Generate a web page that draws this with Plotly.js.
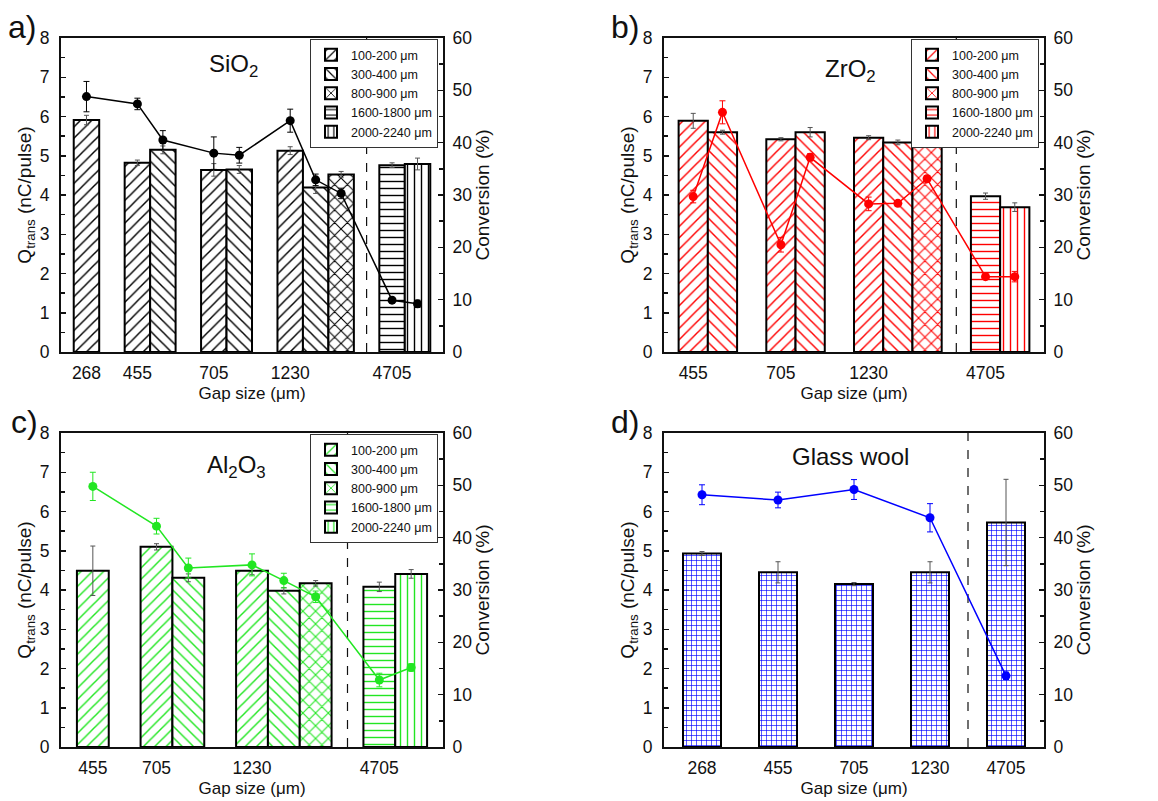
<!DOCTYPE html>
<html><head><meta charset="utf-8">
<script src="https://cdn.plot.ly/plotly-3.0.1.min.js"></script>
<style>html,body{margin:0;padding:0;background:#fff}</style>
</head><body><div id="chart" style="width:1158px;height:801px"></div>
<script>
const sizeClasses = ['100-200 μm','300-400 μm','800-900 μm','1600-1800 μm','2000-2240 μm'];

// a) SiO2
const sio2Gap = ['268','455','455','705','705','1230','1230','1230','4705','4705'];
const sio2Size = ['100-200 μm','100-200 μm','300-400 μm','100-200 μm','300-400 μm','100-200 μm','300-400 μm','800-900 μm','1600-1800 μm','2000-2240 μm'];
const sio2Q = [5.91,4.82,5.15,4.64,4.65,5.13,4.19,4.52,4.76,4.79];
const sio2QErr = [0.12,0.07,0.10,0.16,0.10,0.10,0.15,0.08,0.06,0.15];
const sio2Conv = [48.8,47.4,40.5,38.0,37.6,44.2,32.9,30.3,9.9,9.2];
const sio2ConvErr = [2.9,1.1,1.8,3.1,1.5,2.2,1.1,1.0,0.5,0.7];

// b) ZrO2
const zro2Gap = ['455','455','705','705','1230','1230','1230','4705','4705'];
const zro2Size = ['100-200 μm','300-400 μm','100-200 μm','300-400 μm','100-200 μm','300-400 μm','800-900 μm','1600-1800 μm','2000-2240 μm'];
const zro2Q = [5.89,5.60,5.42,5.60,5.46,5.34,5.35,3.97,3.69];
const zro2QErr = [0.19,0.05,0.04,0.12,0.05,0.06,0.11,0.08,0.11];
const zro2Conv = [29.7,45.8,20.5,37.2,28.3,28.4,33.1,14.4,14.4];
const zro2ConvErr = [1.2,2.2,1.4,0.7,1.3,0.5,0.6,0.5,1.0];

// c) Al2O3
const al2o3Gap = ['455','705','705','1230','1230','1230','4705','4705'];
const al2o3Size = ['100-200 μm','100-200 μm','300-400 μm','100-200 μm','300-400 μm','800-900 μm','1600-1800 μm','2000-2240 μm'];
const al2o3Q = [4.49,5.10,4.31,4.49,3.98,4.17,4.08,4.41];
const al2o3QErr = [0.63,0.08,0.10,0.10,0.08,0.07,0.12,0.11];
const al2o3Conv = [49.8,42.2,34.2,34.8,31.8,28.7,12.8,15.2];
const al2o3ConvErr = [2.7,1.5,1.9,2.1,1.4,1.1,1.3,0.7];

// d) Glass wool
const woolGap = ['268','455','705','1230','4705'];
const woolSize = ['glass wool','glass wool','glass wool','glass wool','glass wool'];
const woolQ = [4.93,4.45,4.15,4.45,5.72];
const woolQErr = [0.05,0.27,0.04,0.27,1.10];
const woolConv = [48.2,47.2,49.2,43.8,13.6];
const woolConvErr = [1.9,1.5,1.9,2.7,0.7];

const FONT = 'Liberation Sans, Arial, sans-serif';
const shapeOf = {'100-200 μm':'/','300-400 μm':'\\','800-900 μm':'x','1600-1800 μm':'-','2000-2240 μm':'|','glass wool':'+'};
const patSize = {'100-200 μm':8,'300-400 μm':8,'800-900 μm':9,'1600-1800 μm':7,'2000-2240 μm':7,'glass wool':5};
const patSolid = {'100-200 μm':0.18,'300-400 μm':0.18,'800-900 μm':0.22,'1600-1800 μm':0.2,'2000-2240 μm':0.2,'glass wool':0.24};

const panels = [
  {gap:sio2Gap,size:sio2Size,q:sio2Q,qe:sio2QErr,c:sio2Conv,ce:sio2ConvErr,color:'#000000',legend:'legend',
   dom:[[61,443],[38,352]],label:'a)',labelX:6,name:'SiO<sub>2</sub>',nameXY:[233,66]},
  {gap:zro2Gap,size:zro2Size,q:zro2Q,qe:zro2QErr,c:zro2Conv,ce:zro2ConvErr,color:'#ff0000',legend:'legend2',
   dom:[[664,1044],[38,352]],label:'b)',labelX:609,name:'ZrO<sub>2</sub>',nameXY:[850,70]},
  {gap:al2o3Gap,size:al2o3Size,q:al2o3Q,qe:al2o3QErr,c:al2o3Conv,ce:al2o3ConvErr,color:'#22e622',legend:'legend3',
   dom:[[61,443],[433,747]],label:'c)',labelX:9,name:'Al<sub>2</sub>O<sub>3</sub>',nameXY:[236,466]},
  {gap:woolGap,size:woolSize,q:woolQ,qe:woolQErr,c:woolConv,ce:woolConvErr,color:'#0000ff',legend:null,
   dom:[[664,1044],[433,747]],label:'d)',labelX:609,name:'Glass wool',nameXY:[850,457]}
];

const W = 1158, H = 801;
const traces = [];
const layout = {
  width: W, height: H, margin:{l:0,r:0,t:0,b:0},
  paper_bgcolor:'#fff', plot_bgcolor:'#fff',
  font:{family:FONT, size:17, color:'#111'},
  barmode:'overlay', shapes:[], annotations:[]
};

panels.forEach((p,i)=>{
  const xn = i===0 ? 'x' : 'x'+(i+1);
  const yl = i===0 ? 'y' : 'y'+(2*i+1);
  const yr = 'y'+(2*i+2);
  const xkey = i===0 ? 'xaxis' : 'xaxis'+(i+1);
  const ylkey = i===0 ? 'yaxis' : 'yaxis'+(2*i+1);
  const yrkey = 'yaxis'+(2*i+2);
  // positions: one empty slot between gap groups
  const pos = []; let cur = -1;
  p.gap.forEach((g,k)=>{ cur += (k>0 && g===p.gap[k-1]) ? 1 : 2; pos.push(cur); });
  const tickvals = [], ticktext = [];
  p.gap.forEach((g,k)=>{ if(k===0 || g!==p.gap[k-1]){ tickvals.push(pos[k]); ticktext.push(g); } });
  const dashX = tickvals[tickvals.length-1] - 1;
  const xr = [0, pos[pos.length-1] + 1];
  const classes = p.legend ? sizeClasses : ['glass wool'];
  classes.forEach(cls=>{
    const idx = p.size.map((s,k)=>s===cls?k:-1).filter(k=>k>=0);
    if(!idx.length) return;
    const t = {
      type:'bar', name:cls, x:idx.map(k=>pos[k]), y:idx.map(k=>p.q[k]), width:1,
      xaxis:xn, yaxis:yl,
      marker:{color:'#fff', line:{color:'#000', width:2},
        pattern:{shape:shapeOf[cls], fgcolor:p.color, bgcolor:'#fff', size:patSize[cls], solidity:patSolid[cls]}},
      error_y:{type:'data', array:idx.map(k=>p.qe[k]), color:'#555', thickness:1, width:2.5},
      showlegend: !!p.legend, hoverinfo:'skip'
    };
    if(p.legend) t.legend = p.legend;
    traces.push(t);
  });
  traces.push({
    type:'scatter', mode:'lines+markers', x:pos, y:p.c, xaxis:xn, yaxis:yr,
    line:{color:p.color, width:1.5}, marker:{color:p.color, size:9},
    error_y:{type:'data', array:p.ce, color:p.color, thickness:1, width:3},
    showlegend:false, hoverinfo:'skip'
  });
  const xd = [p.dom[0][0]/W, p.dom[0][1]/W];
  const yd = [1 - p.dom[1][1]/H, 1 - p.dom[1][0]/H];
  layout[xkey] = {
    domain:xd, anchor:yl, range:xr, tickvals, ticktext, ticks:'',
    showline:true, mirror:true, linecolor:'#111', linewidth:2,
    showgrid:false, zeroline:false, fixedrange:true,
    tickfont:{size:17.5}, ticklabelstandoff:4,
    title:{text:'Gap size (μm)', font:{size:17}, standoff:5}
  };
  layout[ylkey] = {
    domain:yd, anchor:xn, range:[0,8], dtick:1, ticks:'inside', ticklen:5, tickwidth:1.5, tickcolor:'#111',
    minor:{dtick:0.5, ticks:'inside', ticklen:4, tickwidth:1.5, tickcolor:'#111'},
    showline:true, linecolor:'#111', linewidth:2, showgrid:false, zeroline:false, fixedrange:true,
    tickfont:{size:17.5}, ticklabelstandoff:6,
    title:{text:'Q<sub>trans</sub> (nC/pulse)', font:{size:19}, standoff:3}
  };
  layout[yrkey] = {
    overlaying:yl, side:'right', anchor:xn, range:[0,60], dtick:10, ticks:'inside', ticklen:5, tickwidth:1.5, tickcolor:'#111',
    minor:{dtick:5, ticks:'inside', ticklen:4, tickwidth:1.5, tickcolor:'#111'},
    showline:true, linecolor:'#111', linewidth:2, showgrid:false, zeroline:false, fixedrange:true,
    tickfont:{size:17.5}, ticklabelstandoff:4,
    title:{text:'Conversion (%)', font:{size:19}, standoff:2}
  };
  layout.shapes.push({type:'line', xref:xn, yref:yl+' domain', x0:dashX, x1:dashX, y0:0, y1:1,
    line:{color:'#111', width:1.2, dash:'dash'}, layer:'below'});
  if(p.legend){
    layout[p.legend] = {
      x:(p.dom[0][1]-133)/W, y:1-(p.dom[1][0]+1)/H, xanchor:'left', yanchor:'top',
      bgcolor:'#fff', bordercolor:'#333', borderwidth:1, font:{size:12.5, color:'#111'},
      tracegroupgap:0, traceorder:'normal', itemclick:false, itemdoubleclick:false
    };
  }
  layout.annotations.push({xref:'paper', yref:'paper', x:p.labelX/W, y:1-(p.dom[1][0]-11)/H,
    xanchor:'left', yanchor:'middle', text:p.label, showarrow:false, font:{size:32, color:'#111'}});
  layout.annotations.push({xref:'paper', yref:'paper', x:p.nameXY[0]/W, y:1-p.nameXY[1]/H,
    xanchor:'center', yanchor:'middle', text:p.name, showarrow:false, font:{size:24, color:'#111'}});
});

Plotly.newPlot('chart', traces, layout, {staticPlot:true, displayModeBar:false});
</script></body></html>
